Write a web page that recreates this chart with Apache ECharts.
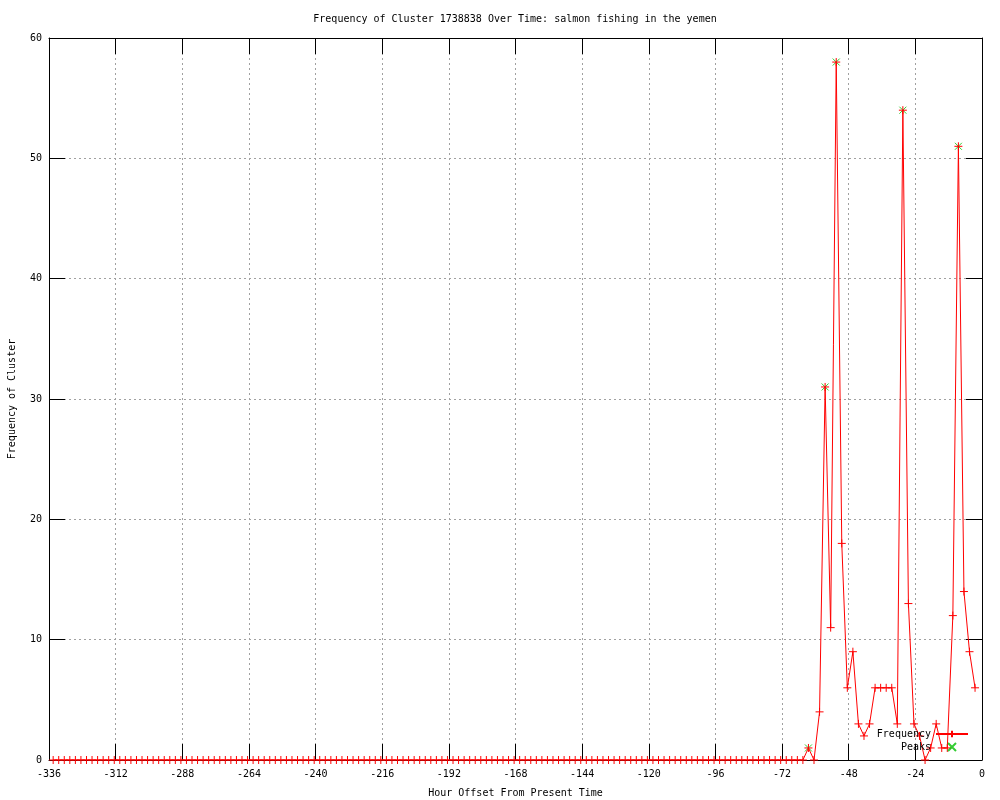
<!DOCTYPE html>
<html>
<head>
<meta charset="utf-8">
<script src="https://cdn.jsdelivr.net/npm/echarts@6/dist/echarts.min.js"></script>
<style>html,body{margin:0;padding:0;background:#fff}#c{width:1000px;height:800px}</style>
</head>
<body>
<div id="c"></div>
<script>
var titleText = 'Frequency of Cluster 1738838 Over Time: salmon fishing in the yemen';
var xName = 'Hour Offset From Present Time';
var yName = 'Frequency of Cluster';

var hours = [
-334.5,-332.5,-330.5,-328.5,-326.5,-324.5,-322.5,-320.5,-318.5,-316.5,
-314.5,-312.5,-310.5,-308.5,-306.5,-304.5,-302.5,-300.5,-298.5,-296.5,
-294.5,-292.5,-290.5,-288.5,-286.5,-284.5,-282.5,-280.5,-278.5,-276.5,
-274.5,-272.5,-270.5,-268.5,-266.5,-264.5,-262.5,-260.5,-258.5,-256.5,
-254.5,-252.5,-250.5,-248.5,-246.5,-244.5,-242.5,-240.5,-238.5,-236.5,
-234.5,-232.5,-230.5,-228.5,-226.5,-224.5,-222.5,-220.5,-218.5,-216.5,
-214.5,-212.5,-210.5,-208.5,-206.5,-204.5,-202.5,-200.5,-198.5,-196.5,
-194.5,-192.5,-190.5,-188.5,-186.5,-184.5,-182.5,-180.5,-178.5,-176.5,
-174.5,-172.5,-170.5,-168.5,-166.5,-164.5,-162.5,-160.5,-158.5,-156.5,
-154.5,-152.5,-150.5,-148.5,-146.5,-144.5,-142.5,-140.5,-138.5,-136.5,
-134.5,-132.5,-130.5,-128.5,-126.5,-124.5,-122.5,-120.5,-118.5,-116.5,
-114.5,-112.5,-110.5,-108.5,-106.5,-104.5,-102.5,-100.5,-98.5,-96.5,
-94.5,-92.5,-90.5,-88.5,-86.5,-84.5,-82.5,-80.5,-78.5,-76.5,
-74.5,-72.5,-70.5,-68.5,-66.5,-64.5,-62.5,-60.5,-58.5,-56.5,
-54.5,-52.5,-50.5,-48.5,-46.5,-44.5,-42.5,-40.5,-38.5,-36.5,
-34.5,-32.5,-30.5,-28.5,-26.5,-24.5,-22.5,-20.5,-18.5,-16.5,
-14.5,-12.5,-10.5,-8.5,-6.5,-4.5,-2.5
];
var frequency = [
0,0,0,0,0,0,0,0,0,0,
0,0,0,0,0,0,0,0,0,0,
0,0,0,0,0,0,0,0,0,0,
0,0,0,0,0,0,0,0,0,0,
0,0,0,0,0,0,0,0,0,0,
0,0,0,0,0,0,0,0,0,0,
0,0,0,0,0,0,0,0,0,0,
0,0,0,0,0,0,0,0,0,0,
0,0,0,0,0,0,0,0,0,0,
0,0,0,0,0,0,0,0,0,0,
0,0,0,0,0,0,0,0,0,0,
0,0,0,0,0,0,0,0,0,0,
0,0,0,0,0,0,0,0,0,0,
0,0,0,0,0,0,1,0,4,31,
11,58,18,6,9,3,2,3,6,6,
6,6,3,54,13,3,2,0,1,3,
1,1,12,51,14,9,6
];
var peakHours = [-62.5, -56.5, -52.5, -28.5, -8.5];
var peakValues = [1, 31, 58, 54, 51];

var FONT = 'DejaVu Sans Mono';
var PLUS = 'path://M0,4L8,4M4,0L4,8';
var CROSS = 'path://M0,0L8,8M8,0L0,8';

var freqData = hours.map(function (h, i) { return [h, frequency[i]]; });
var peakData = peakHours.map(function (h, i) { return [h, peakValues[i]]; });

var chart = echarts.init(document.getElementById('c'), null, {renderer: 'canvas'});
var tickStyle = {show: true, inside: true, length: 16, lineStyle: {color: '#000', width: 1}};
var lineStyleAxis = {show: true, onZero: false, lineStyle: {color: '#000', width: 1}};
chart.setOption({
  animation: false,
  backgroundColor: '#fff',
  title: {
    text: titleText,
    left: 510, top: 9, textAlign: 'center',
    textStyle: {fontFamily: FONT, fontSize: 10, fontWeight: 'normal', color: '#000'}
  },
  grid: {left: 49, right: 18, top: 38, bottom: 40, containLabel: false, outerBoundsMode: 'none'},
  legend: {
    data: ['Frequency', 'Peaks'],
    orient: 'vertical',
    align: 'right',
    right: 31, top: 729,
    padding: 0,
    itemGap: 3,
    itemWidth: 32, itemHeight: 8,
    textStyle: {fontFamily: FONT, fontSize: 10, color: '#000'}
  },
  xAxis: [{
    type: 'value', min: -336, max: 0, interval: 24, position: 'bottom',
    name: xName, nameLocation: 'middle', nameGap: 28,
    nameTextStyle: {fontFamily: FONT, fontSize: 10, color: '#000'},
    axisLine: lineStyleAxis, axisTick: tickStyle,
    axisLabel: {fontFamily: FONT, fontSize: 10, color: '#000', margin: 9},
    splitLine: {show: true, lineStyle: {color: '#a0a0a0', type: [2, 3], width: 1}}
  }, {
    type: 'value', min: -336, max: 0, interval: 24, position: 'top',
    axisLine: lineStyleAxis, axisTick: tickStyle,
    axisLabel: {show: false}, splitLine: {show: false}
  }],
  yAxis: [{
    type: 'value', min: 0, max: 60, interval: 10, position: 'left',
    name: yName, nameLocation: 'middle', nameGap: 32, nameRotate: 90,
    nameTextStyle: {fontFamily: FONT, fontSize: 10, color: '#000'},
    axisLine: lineStyleAxis, axisTick: tickStyle,
    axisLabel: {fontFamily: FONT, fontSize: 10, color: '#000', margin: 7},
    splitLine: {show: true, lineStyle: {color: '#a0a0a0', type: [2, 3], width: 1}}
  }, {
    type: 'value', min: 0, max: 60, interval: 10, position: 'right',
    axisLine: lineStyleAxis, axisTick: tickStyle,
    axisLabel: {show: false}, splitLine: {show: false}
  }],
  series: [{
    name: 'Peaks', type: 'scatter', xAxisIndex: 0, yAxisIndex: 0,
    data: peakData, symbol: CROSS, symbolSize: 7, z: 2,
    itemStyle: {color: '#00c000', borderColor: '#00c000', borderWidth: 1},
    emphasis: {disabled: true}
  }, {
    name: 'Frequency', type: 'line', xAxisIndex: 0, yAxisIndex: 0,
    data: freqData, symbol: PLUS, symbolSize: 8, showAllSymbol: true, z: 3,
    lineStyle: {color: '#ff0000', width: 1},
    itemStyle: {color: '#ff0000', borderColor: '#ff0000', borderWidth: 1},
    emphasis: {disabled: true}
  }]
});
</script>
</body>
</html>
